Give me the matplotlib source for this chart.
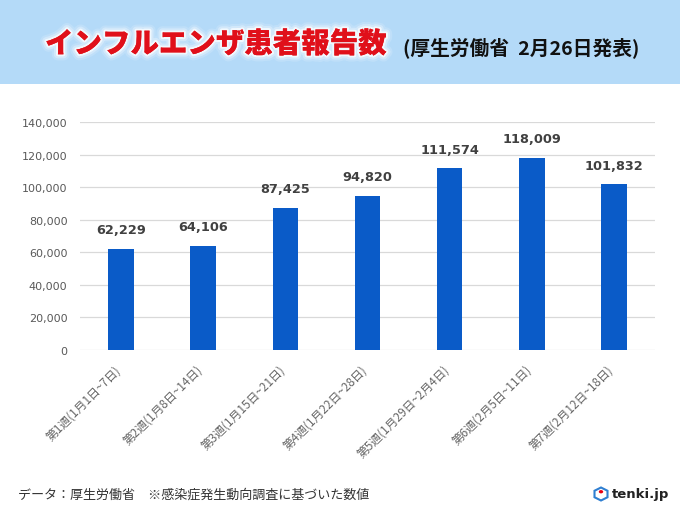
import matplotlib
matplotlib.use("Agg")
import matplotlib.pyplot as plt
import matplotlib.patheffects as pe
import matplotlib.transforms as mtransforms
from matplotlib.patches import Rectangle, Polygon, Circle

plt.rcParams['font.family'] = ['DejaVu Sans', 'Noto Sans CJK JP']

categories = ["第1週(1月1日~7日)", "第2週(1月8日~14日)", "第3週(1月15日~21日)",
              "第4週(1月22日~28日)", "第5週(1月29日~2月4日)", "第6週(2月5日~11日)",
              "第7週(2月12日~18日)"]
values = [62229, 64106, 87425, 94820, 111574, 118009, 101832]
yticks = [0, 20000, 40000, 60000, 80000, 100000, 120000, 140000]

title_main = "インフルエンザ患者報告数"
title_sub = "(厚生労働省  2月26日発表)"
footer = "データ：厚生労働省\u3000※感染症発生動向調査に基づいた数値"
logo = "tenki.jp"

W, H = 680, 510
fig = plt.figure(figsize=(6.8, 5.1), dpi=100)
fig.patch.set_facecolor('white')

# header band
fig.patches.append(Rectangle((0, 1 - 85 / H), 1, 85 / H, transform=fig.transFigure,
                             facecolor='#b4daf8', edgecolor='none', zorder=0))

cjk = ['Noto Sans CJK JP', 'DejaVu Sans']
glow = [pe.withStroke(linewidth=9, foreground='white', alpha=0.15),
        pe.withStroke(linewidth=6, foreground='white', alpha=0.3),
        pe.withStroke(linewidth=3, foreground='white', alpha=0.7),
        pe.Normal()]
fig.text(45 / W, 1 - 45 / H, title_main, family=cjk, fontsize=20.5, fontweight='heavy',
         color='#e0101a', ha='left', va='center', path_effects=glow)
fig.text(403 / W, 1 - 48 / H, title_sub, family=cjk, fontsize=14.2, fontweight='bold',
         color='#111111', ha='left', va='center')

ax = fig.add_axes([80 / W, 1 - 351 / H, 575 / W, 228 / H])
x = list(range(len(categories)))
ax.bar(x, values, width=0.31, color='#0a5bc8', zorder=3)
ax.set_xlim(-0.5, len(categories) - 0.5)
ax.set_ylim(0, 140000)
ax.set_yticks(yticks)
ax.set_yticklabels([f"{v:,}" for v in yticks], fontsize=8, color='#595959')
ax.grid(axis='y', color='#d9d9d9', linewidth=0.9, zorder=0)
ax.set_axisbelow(True)
for s in ax.spines.values():
    s.set_visible(False)
ax.tick_params(axis='both', length=0)
ax.tick_params(axis='y', pad=9)
ax.set_xticks(x)
ax.set_xticklabels(categories, rotation=45, ha='right', rotation_mode='anchor',
                   fontsize=8.5, color='#666666', family=cjk)
ax.tick_params(axis='x', pad=9)
shift = mtransforms.ScaledTranslation(-7 / 100, 0, fig.dpi_scale_trans)
for lbl in ax.get_xticklabels():
    lbl.set_transform(lbl.get_transform() + shift)

for xi, v in zip(x, values):
    ax.annotate(f"{v:,}", (xi, v), xytext=(0, 13.7), textcoords='offset points',
                ha='center', va='center', fontsize=9.3, fontweight='bold', color='#404040')

fig.text(18 / W, 1 - 495 / H, footer, family=cjk, fontsize=9.4, color='#333333',
         ha='left', va='center')

# logo
fig.text(612 / W, 1 - 495 / H, logo, family=['DejaVu Sans'], fontsize=9.5, fontweight='bold',
         color='#222222', ha='left', va='center')
cx, cy = 601 / W, 1 - 495 / H
sx, sy = 6.5 / W, 6.5 / H
hexpts = [(cx, cy + sy), (cx + sx, cy + sy * 0.5), (cx + sx, cy - sy * 0.5),
          (cx, cy - sy), (cx - sx, cy - sy * 0.5), (cx - sx, cy + sy * 0.5)]
fig.patches.append(Polygon(hexpts, closed=True, transform=fig.transFigure,
                           facecolor='white', edgecolor='#2f7fd1', linewidth=1.5))
fig.patches.append(Circle((cx, cy + sy * 0.35), 2.2 / W, transform=fig.transFigure,
                          facecolor='#e60012', edgecolor='none'))

fig.savefig('out.png', dpi=100, facecolor='white')
